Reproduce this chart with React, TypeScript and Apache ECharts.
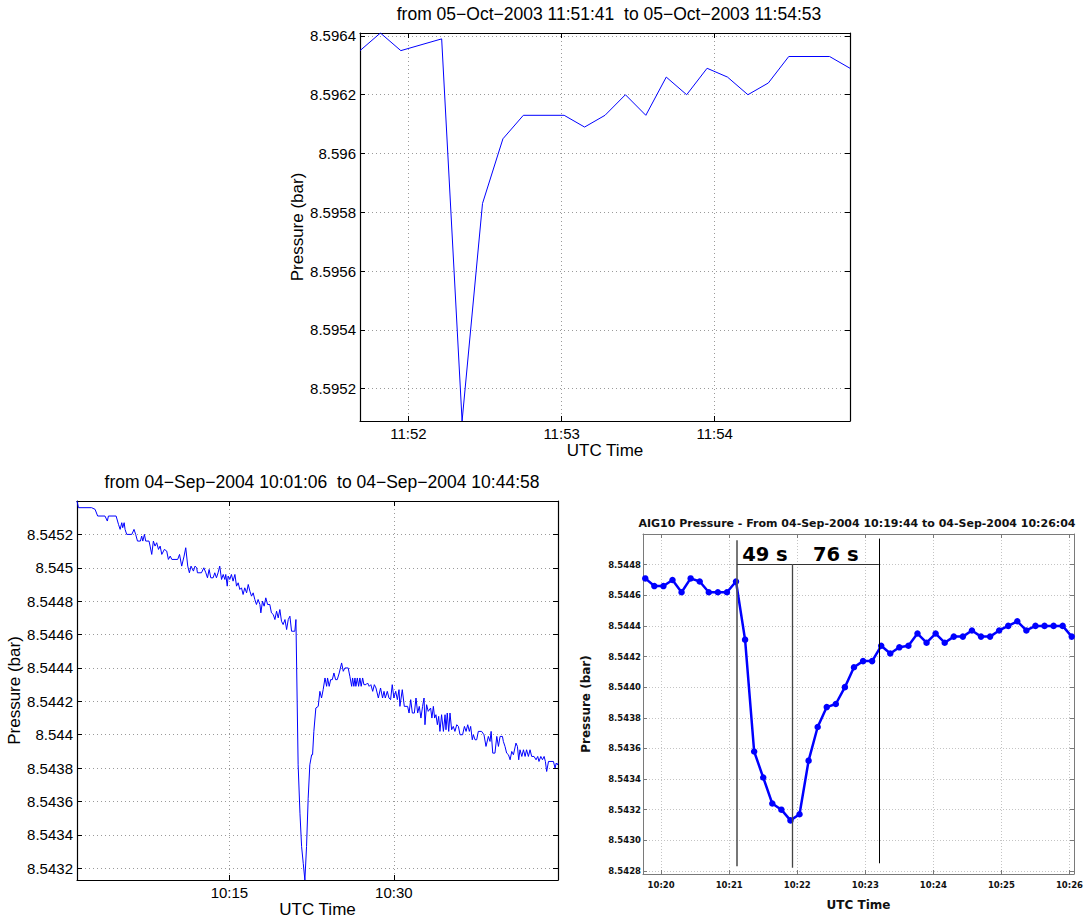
import React, { useEffect, useRef } from "react";
import * as echarts from "echarts";

// ---------------- Top chart (05-Oct-2003) ----------------
const topTitle = "from 05−Oct−2003 11:51:41  to 05−Oct−2003 11:54:53";
const topXRange = ["11:51:41", "11:54:53"];
const topYRange = [8.59509, 8.59641];
const topXTicks = ["11:52", "11:53", "11:54"];
const topYTicks = [8.5952, 8.5954, 8.5956, 8.5958, 8.596, 8.5962, 8.5964];
const topTimes = [
  "11:51:41", "11:51:49", "11:51:57", "11:52:13", "11:52:21", "11:52:29", "11:52:37", "11:52:45",
  "11:53:01", "11:53:09", "11:53:17", "11:53:25", "11:53:33", "11:53:41", "11:53:49", "11:53:57",
  "11:54:05", "11:54:13", "11:54:21", "11:54:29", "11:54:45", "11:54:53",
];
const topValues = [
  8.59635, 8.59641, 8.59635, 8.59639, 8.59509, 8.59583, 8.59605, 8.59613,
  8.59613, 8.59609, 8.59613, 8.5962, 8.59613, 8.59626, 8.5962, 8.59629,
  8.59626, 8.5962, 8.59624, 8.59633, 8.59633, 8.59629,
];

// ---------------- Bottom-left chart (04-Sep-2004, long) ----------------
const leftTitle = "from 04−Sep−2004 10:01:06  to 04−Sep−2004 10:44:58";
const leftXRange = ["10:01:06", "10:44:58"];
const leftYRange = [8.54313, 8.5454];
const leftXTicks = ["10:15", "10:30"];
const leftYTicks = [8.5432, 8.5434, 8.5436, 8.5438, 8.544, 8.5442, 8.5444, 8.5446, 8.5448, 8.545, 8.5452];
// seconds after 10:01:06
const leftOffsets = [
  0, 8, 80, 99, 113, 153, 166, 172, 214, 227, 236, 245, 250, 258, 263, 272, 300, 312, 321, 331,
  347, 354, 360, 369, 376, 394, 400, 409, 418, 427, 436, 446, 455, 464, 478, 491, 500, 510, 519, 551,
  561, 573, 586, 595, 606, 615, 624, 637, 646, 655, 659, 681, 694, 705, 714, 723, 732, 745, 754, 763,
  772, 781, 791, 800, 809, 814, 822, 827, 836, 845, 854, 864, 873, 882, 891, 900, 909, 918, 928, 937,
  946, 955, 964, 973, 982, 991, 1001, 1006, 1015, 1024, 1033, 1043, 1055, 1064, 1074, 1083, 1092, 1101, 1110, 1119,
  1128, 1138, 1147, 1156, 1165, 1174, 1192, 1198, 1210, 1220, 1229, 1238, 1247, 1256, 1265, 1274, 1284, 1289, 1296, 1307,
  1320, 1329, 1338, 1347, 1357, 1366, 1371, 1380, 1388, 1397, 1406, 1415, 1424, 1435, 1448, 1457, 1466, 1484, 1493, 1503,
  1508, 1515, 1521, 1526, 1534, 1541, 1548, 1555, 1563, 1570, 1581, 1590, 1599, 1608, 1618, 1627, 1636, 1649, 1661, 1672,
  1680, 1687, 1698, 1707, 1716, 1725, 1734, 1744, 1753, 1762, 1767, 1780, 1791, 1809, 1817, 1826, 1835, 1846, 1855, 1864,
  1873, 1882, 1891, 1899, 1904, 1913, 1922, 1935, 1942, 1950, 1957, 1964, 1972, 1979, 1986, 1995, 2005, 2014, 2019, 2026,
  2034, 2041, 2050, 2059, 2068, 2078, 2087, 2096, 2110, 2120, 2129, 2138, 2147, 2154, 2163, 2169, 2178, 2187, 2196, 2214,
  2227, 2238, 2251, 2260, 2266, 2275, 2287, 2297, 2306, 2315, 2328, 2333, 2342, 2351, 2361, 2370, 2379, 2388, 2402, 2410,
  2417, 2424, 2434, 2443, 2452, 2460, 2470, 2479, 2488, 2501, 2512, 2521, 2528, 2538, 2547, 2556, 2563, 2570, 2580, 2607,
  2616, 2622, 2629, 2632,
];
const leftValues = [
  8.5454, 8.54536, 8.54536, 8.54535, 8.54531, 8.54531, 8.54528, 8.54531, 8.54531, 8.54526, 8.54523, 8.54527, 8.54524, 8.54527, 8.54523, 8.5452, 8.5452, 8.54523, 8.5452, 8.54516,
  8.54516, 8.54519, 8.54516, 8.5452, 8.54516, 8.54516, 8.54513, 8.54508, 8.54516, 8.54513, 8.54515, 8.54511, 8.54513, 8.54508, 8.54511, 8.5451, 8.54505, 8.54507, 8.54505, 8.54505,
  8.54508, 8.54501, 8.54507, 8.54512, 8.54501, 8.54497, 8.54501, 8.54498, 8.54501, 8.545, 8.54497, 8.54497, 8.545, 8.54497, 8.54494, 8.54499, 8.54494, 8.54494, 8.54497, 8.54494,
  8.54497, 8.54501, 8.54493, 8.54496, 8.54493, 8.54496, 8.54489, 8.54495, 8.54493, 8.54496, 8.54492, 8.54496, 8.54489, 8.54491, 8.54487, 8.54488, 8.54484, 8.54488, 8.54485, 8.5449,
  8.54486, 8.54483, 8.54485, 8.54481, 8.54478, 8.54481, 8.54478, 8.54473, 8.5448, 8.54477, 8.54482, 8.54478, 8.54478, 8.54473, 8.54472, 8.54469, 8.54474, 8.5447, 8.54475, 8.54468,
  8.54466, 8.54469, 8.54463, 8.54469, 8.54471, 8.54462, 8.54462, 8.54469, 8.54382, 8.54353, 8.54333, 8.54323, 8.54313, 8.54333, 8.54362, 8.54382, 8.54388, 8.54388, 8.54402, 8.54416,
  8.54417, 8.54426, 8.54422, 8.54427, 8.54434, 8.54429, 8.54434, 8.54429, 8.54433, 8.54433, 8.54437, 8.54433, 8.54433, 8.54437, 8.54443, 8.54438, 8.5444, 8.5444, 8.54435, 8.54429,
  8.54434, 8.54429, 8.54434, 8.54429, 8.54434, 8.54429, 8.54434, 8.54429, 8.54434, 8.5443, 8.5443, 8.54431, 8.54429, 8.5443, 8.54426, 8.5443, 8.54428, 8.54422, 8.54428, 8.54422,
  8.54426, 8.54422, 8.54426, 8.54422, 8.54421, 8.5443, 8.54422, 8.54426, 8.54421, 8.54427, 8.54417, 8.54427, 8.54417, 8.54417, 8.54413, 8.54421, 8.54413, 8.54413, 8.54422, 8.54413,
  8.54417, 8.5441, 8.54417, 8.54422, 8.54406, 8.54418, 8.54414, 8.54416, 8.5441, 8.54417, 8.5441, 8.54412, 8.54406, 8.54411, 8.54402, 8.54412, 8.54402, 8.54412, 8.54403, 8.54413,
  8.54402, 8.54413, 8.54403, 8.54405, 8.54402, 8.54406, 8.54405, 8.544, 8.544, 8.54405, 8.54402, 8.54406, 8.54402, 8.54405, 8.54397, 8.544, 8.54397, 8.54397, 8.54402, 8.54402,
  8.544, 8.54393, 8.54399, 8.54396, 8.54402, 8.54389, 8.54389, 8.54399, 8.54393, 8.54399, 8.54399, 8.54396, 8.54393, 8.54389, 8.54388, 8.54385, 8.5439, 8.54388, 8.54395, 8.54393,
  8.54385, 8.54391, 8.54387, 8.54391, 8.54387, 8.54391, 8.54387, 8.54391, 8.54387, 8.54387, 8.54385, 8.54387, 8.54384, 8.54387, 8.54385, 8.54387, 8.54384, 8.54378, 8.54384, 8.54384,
  8.5438, 8.54383, 8.54382, 8.54383,
];

// ---------------- Bottom-right chart (AIG10, zoom) ----------------
const rightTitle = "AIG10 Pressure - From 04-Sep-2004 10:19:44 to 04-Sep-2004 10:26:04";
const rightXRange = ["10:19:44", "10:26:04"];
const rightYRange = [8.54278, 8.545];
const rightXTicks = ["10:20", "10:21", "10:22", "10:23", "10:24", "10:25", "10:26"];
const rightYTicks = [8.5428, 8.543, 8.5432, 8.5434, 8.5436, 8.5438, 8.544, 8.5442, 8.5444, 8.5446, 8.5448];
const rightTimes = [
  "10:19:46", "10:19:54", "10:20:02", "10:20:10", "10:20:18", "10:20:26", "10:20:34", "10:20:42",
  "10:20:50", "10:20:58", "10:21:06", "10:21:14", "10:21:22", "10:21:30", "10:21:38", "10:21:46",
  "10:21:54", "10:22:02", "10:22:10", "10:22:18", "10:22:26", "10:22:34", "10:22:42", "10:22:50",
  "10:22:58", "10:23:06", "10:23:14", "10:23:22", "10:23:30", "10:23:38", "10:23:46", "10:23:54",
  "10:24:02", "10:24:10", "10:24:18", "10:24:26", "10:24:34", "10:24:42", "10:24:50", "10:24:58",
  "10:25:06", "10:25:14", "10:25:22", "10:25:30", "10:25:38", "10:25:46", "10:25:54", "10:26:02",
];
const rightValues = [
  8.54471, 8.54466, 8.54466, 8.5447, 8.54462, 8.54471, 8.54469, 8.54462,
  8.54462, 8.54462, 8.54469, 8.54431, 8.54358, 8.54341, 8.54324, 8.5432,
  8.54313, 8.54317, 8.54352, 8.54374, 8.54387, 8.54389, 8.544, 8.54413,
  8.54417, 8.54417, 8.54427, 8.54422, 8.54426, 8.54427, 8.54435, 8.54429,
  8.54435, 8.54429, 8.54433, 8.54433, 8.54437, 8.54433, 8.54433, 8.54437,
  8.5444, 8.54443, 8.54437, 8.5444, 8.5444, 8.5444, 8.5444, 8.54433,
];
// event markers: start of drop, pressure minimum, recovery
const markerTimes = ["10:21:07", "10:21:56", "10:23:12"];
const markerTops = [8.54496, 8.5448, 8.54497];
const markerBottoms = [8.54283, 8.54282, 8.54285];
const markerBarLevel = 8.5448;
const markerLabels = ["49 s", "76 s"];

// ---------------- helpers ----------------
const toSec = (t: string) => {
  const p = t.split(":").map(Number);
  return p[0] * 3600 + p[1] * 60 + (p[2] || 0);
};
const hm = (v: number) => {
  const h = Math.floor(v / 3600 + 1e-9);
  const m = Math.round((v - h * 3600) / 60);
  return h + ":" + String(m).padStart(2, "0");
};
const trimFmt = (v: number) => String(parseFloat(Number(v).toFixed(4)));
const fixFmt = (v: number) => Number(v).toFixed(4);

const matlabStyle = {
  frame: "#000",
  frameWidth: 1.2,
  grid: "#9a9a9a",
  gridType: [1, 3],
  tickLen: 5,
  label: { fontFamily: "Liberation Sans", fontSize: 15, color: "#000" },
  name: { fontFamily: "Liberation Sans", fontSize: 17, color: "#000" },
};
const aigStyle = {
  frame: "#7a7a7a",
  frameWidth: 1,
  grid: "#c4c4c4",
  gridType: [1, 2],
  tickLen: 4,
  label: { fontFamily: "DejaVu Sans", fontSize: 8.5, fontWeight: "bold", color: "#111" },
  name: { fontFamily: "DejaVu Sans", fontSize: 12, fontWeight: "bold", color: "#111" },
};

function xPair(grid: number, range: number[], ticks: number[], st: any, name: string, nameGap: number, margin: number) {
  const common = {
    type: "value",
    gridIndex: grid,
    min: range[0],
    max: range[1],
    axisLine: { show: true, onZero: false, lineStyle: { color: st.frame, width: st.frameWidth } },
    axisTick: { show: true, inside: true, length: st.tickLen, customValues: ticks, lineStyle: { color: st.frame } },
  };
  return [
    {
      ...common,
      position: "bottom",
      name,
      nameLocation: "middle",
      nameGap,
      nameTextStyle: st.name,
      axisLabel: { show: true, customValues: ticks, formatter: hm, margin, ...st.label },
      splitLine: { show: true, lineStyle: { color: st.grid, type: st.gridType, width: 1 } },
    },
    { ...common, position: "top", axisLabel: { show: false }, splitLine: { show: false } },
  ];
}

function yPair(grid: number, range: number[], ticks: number[], st: any, fmt: any, name: string, nameGap: number, margin: number) {
  const common = {
    type: "value",
    gridIndex: grid,
    min: range[0],
    max: range[1],
    axisLine: { show: true, onZero: false, lineStyle: { color: st.frame, width: st.frameWidth } },
    axisTick: { show: true, inside: true, length: st.tickLen, customValues: ticks, lineStyle: { color: st.frame } },
  };
  return [
    {
      ...common,
      position: "left",
      name,
      nameLocation: "middle",
      nameGap,
      nameTextStyle: st.name,
      axisLabel: { show: true, customValues: ticks, formatter: fmt, margin, ...st.label },
      splitLine: { show: true, lineStyle: { color: st.grid, type: st.gridType, width: 1 } },
    },
    { ...common, position: "right", axisLabel: { show: false }, splitLine: { show: false } },
  ];
}

const topData = topTimes.map((t, i) => [toSec(t), topValues[i]]);
const leftStart = toSec(leftXRange[0]);
const leftData = leftOffsets.map((o, i) => [leftStart + o, leftValues[i]]);
const rightData = rightTimes.map((t, i) => [toSec(t), rightValues[i]]);

const mk = markerTimes.map(toSec);
const barLabel = (text: string) => ({
  show: true,
  position: "insideMiddleTop",
  formatter: text,
  distance: 0,
  fontFamily: "DejaVu Sans",
  fontWeight: "bold",
  fontSize: 19.5,
  color: "#000",
});
const markLineData: any[] = [
  [
    { coord: [mk[0], markerTops[0]], lineStyle: { color: "#555", width: 1.6, type: "solid" } },
    { coord: [mk[0], markerBottoms[0]] },
  ],
  [
    { coord: [mk[1], markerTops[1]], lineStyle: { color: "#444", width: 1.3, type: "solid" } },
    { coord: [mk[1], markerBottoms[1]] },
  ],
  [
    { coord: [mk[2], markerTops[2]], lineStyle: { color: "#000", width: 1, type: "solid" } },
    { coord: [mk[2], markerBottoms[2]] },
  ],
  [
    { coord: [mk[0], markerBarLevel], lineStyle: { color: "#333", width: 1, type: "solid" }, label: barLabel(markerLabels[0]) },
    { coord: [mk[1], markerBarLevel] },
  ],
  [
    { coord: [mk[1], markerBarLevel], lineStyle: { color: "#333", width: 1, type: "solid" }, label: barLabel(markerLabels[1]) },
    { coord: [mk[2], markerBarLevel] },
  ],
];

const option: any = {
  animation: false,
  backgroundColor: "#fff",
  grid: [
    { left: 360, top: 33, width: 490, height: 388 },
    { left: 77, top: 501, width: 481, height: 379 },
    { left: 643, top: 534, width: 433, height: 340 },
  ],
  xAxis: [
    ...xPair(0, topXRange.map(toSec), topXTicks.map(toSec), matlabStyle, "UTC Time", 20, 5),
    ...xPair(1, leftXRange.map(toSec), leftXTicks.map(toSec), matlabStyle, "UTC Time", 20, 5),
    ...xPair(2, rightXRange.map(toSec), rightXTicks.map(toSec), aigStyle, "UTC Time", 25, 6),
  ],
  yAxis: [
    ...yPair(0, topYRange, topYTicks, matlabStyle, trimFmt, "Pressure (bar)", 54, 4),
    ...yPair(1, leftYRange, leftYTicks, matlabStyle, trimFmt, "Pressure (bar)", 52, 4),
    ...yPair(2, rightYRange, rightYTicks, aigStyle, fixFmt, "Pressure (bar)", 51, 2),
  ],
  series: [
    {
      name: "Pressure 05-Oct-2003",
      type: "line",
      xAxisIndex: 0,
      yAxisIndex: 0,
      data: topData,
      symbol: "none",
      showSymbol: false,
      lineStyle: { color: "#0000ff", width: 1 },
    },
    {
      name: "Pressure 04-Sep-2004",
      type: "line",
      xAxisIndex: 2,
      yAxisIndex: 2,
      data: leftData,
      symbol: "none",
      showSymbol: false,
      lineStyle: { color: "#0000ff", width: 1 },
    },
    {
      name: "AIG10 Pressure",
      type: "line",
      xAxisIndex: 4,
      yAxisIndex: 4,
      data: rightData,
      symbol: "circle",
      symbolSize: 6.5,
      showSymbol: true,
      itemStyle: { color: "#0000ff" },
      lineStyle: { color: "#0000ff", width: 2.5 },
      markLine: {
        silent: true,
        symbol: ["none", "none"],
        label: { show: false },
        data: markLineData,
      },
    },
  ],
  graphic: [
    {
      type: "text",
      x: 609,
      y: 14,
      style: { text: topTitle, font: '17.5px "Liberation Sans"', fill: "#000", textAlign: "center", textVerticalAlign: "middle" },
    },
    {
      type: "text",
      x: 322,
      y: 482,
      style: { text: leftTitle, font: '17.5px "Liberation Sans"', fill: "#000", textAlign: "center", textVerticalAlign: "middle" },
    },
    {
      type: "text",
      x: 857,
      y: 523,
      style: { text: rightTitle, font: 'bold 11px "DejaVu Sans"', fill: "#111", textAlign: "center", textVerticalAlign: "middle" },
    },
  ],
};

export default function App() {
  const ref = useRef<HTMLDivElement>(null);
  useEffect(() => {
    const chart = echarts.init(ref.current!, null, { renderer: "svg" });
    chart.setOption(option);
    return () => chart.dispose();
  }, []);
  return (
    <div
      ref={ref}
      style={{ position: "absolute", left: 0, top: 0, width: 1086, height: 921, background: "#fff" }}
    />
  );
}
